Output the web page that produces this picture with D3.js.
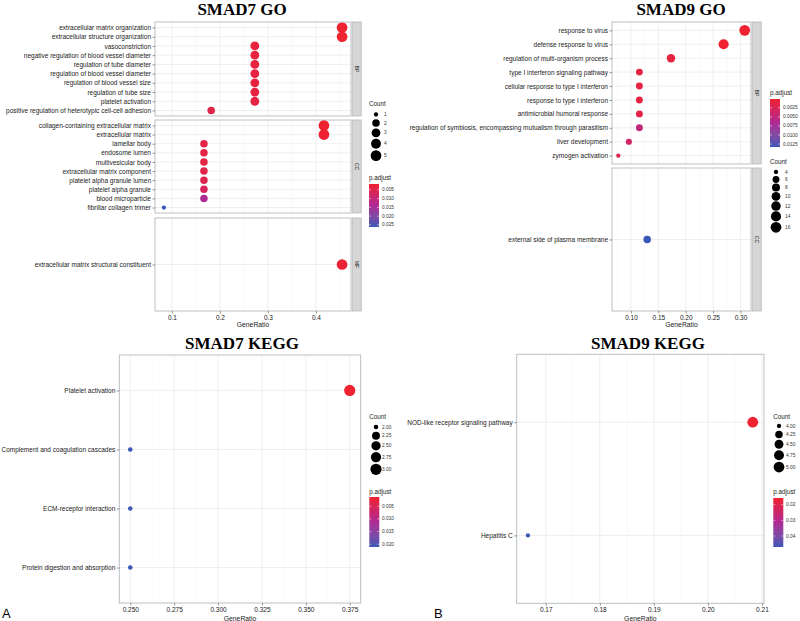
<!DOCTYPE html>
<html><head><meta charset="utf-8">
<script src="https://cdn.jsdelivr.net/npm/d3@7"></script>
<style>body{margin:0;background:#fff} svg{display:block}</style>
</head><body>
<svg id="chart" width="800" height="621"></svg>
<script>
// ---------------- DATA ----------------
// SMAD7 GO
const smad7GoTerms = [
  "extracellular matrix organization","extracellular structure organization","vasoconstriction",
  "negative regulation of blood vessel diameter","regulation of tube diameter","regulation of blood vessel diameter",
  "regulation of blood vessel size","regulation of tube size","platelet activation",
  "positive regulation of heterotypic cell-cell adhesion",
  "collagen-containing extracellular matrix","extracellular matrix","lamellar body","endosome lumen",
  "multivesicular body","extracellular matrix component","platelet alpha granule lumen","platelet alpha granule",
  "blood microparticle","fibrillar collagen trimer",
  "extracellular matrix structural constituent"];
const smad7GoOntology = ["BP","BP","BP","BP","BP","BP","BP","BP","BP","BP",
  "CC","CC","CC","CC","CC","CC","CC","CC","CC","CC","MF"];
const smad7GoGeneRatio = [0.4545,0.4545,0.2727,0.2727,0.2727,0.2727,0.2727,0.2727,0.2727,0.1818,
  0.4167,0.4167,0.1667,0.1667,0.1667,0.1667,0.1667,0.1667,0.1667,0.0833,0.4545];
const smad7GoCount = [5,5,3,3,3,3,3,3,3,2, 5,5,2,2,2,2,2,2,2,1, 5];
const smad7GoPadjust = [0.0017,0.0017,0.0030,0.0032,0.0034,0.0034,0.0035,0.0035,0.0040,0.0045,
  0.0017,0.0017,0.0040,0.0040,0.0040,0.0045,0.0055,0.0068,0.0140,0.0262,0.0022];
const smad7GoXTicks = [0.1,0.2,0.3,0.4];
const smad7GoPTicks = [0.005,0.010,0.015,0.020,0.025];
const smad7GoCountTicks = [1,2,3,4,5];

// SMAD9 GO
const smad9GoTerms = ["response to virus","defense response to virus","regulation of multi-organism process",
  "type I interferon signaling pathway","cellular response to type I interferon","response to type I interferon",
  "antimicrobial humoral response","regulation of symbiosis, encompassing mutualism through parasitism",
  "liver development","zymogen activation","external side of plasma membrane"];
const smad9GoOntology = ["BP","BP","BP","BP","BP","BP","BP","BP","BP","BP","CC"];
const smad9GoGeneRatio = [0.3077,0.2692,0.1731,0.1154,0.1154,0.1154,0.1154,0.1154,0.0962,0.0769,0.1296];
const smad9GoCount = [16,14,9,6,6,6,6,6,5,4,7];
const smad9GoPadjust = [0.0001,0.0001,0.0012,0.0012,0.0012,0.0012,0.0015,0.0050,0.0035,0.0020,0.0133];
const smad9GoXTicks = [0.10,0.15,0.20,0.25,0.30];
const smad9GoPTicks = [0.0025,0.0050,0.0075,0.0100,0.0125];
const smad9GoCountTicks = [4,6,8,10,12,14,16];

// SMAD7 KEGG
const smad7KeggTerms = ["Platelet activation","Complement and coagulation cascades","ECM-receptor interaction","Protein digestion and absorption"];
const smad7KeggGeneRatio = [0.375,0.25,0.25,0.25];
const smad7KeggCount = [3,2,2,2];
const smad7KeggPadjust = [0.0013,0.0211,0.0211,0.0211];
const smad7KeggXTicks = [0.250,0.275,0.300,0.325,0.350,0.375];
const smad7KeggPTicks = [0.005,0.010,0.015,0.020];
const smad7KeggCountTicks = [2.00,2.25,2.50,2.75,3.00];

// SMAD9 KEGG
const smad9KeggTerms = ["NOD-like receptor signaling pathway","Hepatitis C"];
const smad9KeggGeneRatio = [0.2083,0.1667];
const smad9KeggCount = [5,4];
const smad9KeggPadjust = [0.0158,0.0470];
const smad9KeggXTicks = [0.17,0.18,0.19,0.20,0.21];
const smad9KeggPTicks = [0.02,0.03,0.04];
const smad9KeggCountTicks = [4.00,4.25,4.50,4.75,5.00];

// ---------------- DRAWING ----------------
const svg = d3.select("#chart");
svg.append("rect").attr("width",800).attr("height",621).attr("fill","#fff");
const RED = "#EE2231", MID = "#AE2A94", BLUE = "#3A57B6";
const SANS = "'Liberation Sans', Arial, sans-serif";
const SERIF = "'Liberation Serif', 'Times New Roman', serif";
const BORDER = "#b4b8bd";
let gradId = 0;

function expand(ext){ const r = ext[1]-ext[0]; return [ext[0]-0.05*r, ext[1]+0.05*r]; }

function drawDotplot(cfg){
  const g = svg.append("g");
  const x = d3.scaleLinear().domain(expand(d3.extent(cfg.ratio))).range([cfg.left, cfg.right]);
  const pe = d3.extent(cfg.padj);
  const color = d3.scaleLinear().domain([pe[0], (pe[0]+pe[1])/2, pe[1]]).range([RED, MID, BLUE]).interpolate(d3.interpolateLab);
  const cExt = d3.extent(cfg.count);
  const diam = c => cfg.dMin + (cfg.dMax - cfg.dMin) * Math.sqrt((c - cExt[0]) / (cExt[1] - cExt[0]));

  // minor breaks
  const step = cfg.xTicks[1]-cfg.xTicks[0];
  const ext = [cfg.xTicks[0]-step, ...cfg.xTicks, cfg.xTicks[cfg.xTicks.length-1]+step];
  const minors = d3.pairs(ext).map(p => (p[0]+p[1])/2).filter(v => v>x.domain()[0] && v<x.domain()[1]);

  cfg.facets.forEach((f, fi) => {
    const idx = cfg.terms.map((t,i)=>i).filter(i => !f.key || cfg.ont[i] === f.key);
    const y = d3.scalePoint().domain(idx.map(i=>cfg.terms[i])).range([f.top, f.bottom]).padding(0.6);
    const pg = g.append("g");
    pg.append("rect").attr("x",cfg.left).attr("y",f.top).attr("width",cfg.right-cfg.left).attr("height",f.bottom-f.top).attr("fill","#fff");
    pg.selectAll(".mn").data(minors).join("line").attr("x1",d=>x(d)).attr("x2",d=>x(d)).attr("y1",f.top).attr("y2",f.bottom)
      .attr("stroke","#f4f4f4").attr("stroke-width",0.5);
    pg.selectAll(".mj").data(cfg.xTicks).join("line").attr("x1",d=>x(d)).attr("x2",d=>x(d)).attr("y1",f.top).attr("y2",f.bottom)
      .attr("stroke","#e8e8e8").attr("stroke-width",0.7);
    pg.selectAll(".hz").data(y.domain()).join("line").attr("x1",cfg.left).attr("x2",cfg.right).attr("y1",d=>y(d)).attr("y2",d=>y(d))
      .attr("stroke","#e8e8e8").attr("stroke-width",0.7);
    pg.selectAll("circle").data(idx).join("circle")
      .attr("cx", i => x(cfg.ratio[i])).attr("cy", i => y(cfg.terms[i]))
      .attr("r", i => diam(cfg.count[i])/2).attr("fill", i => color(cfg.padj[i]));
    pg.append("rect").attr("x",cfg.left).attr("y",f.top).attr("width",cfg.right-cfg.left).attr("height",f.bottom-f.top)
      .attr("fill","none").attr("stroke",BORDER).attr("stroke-width",0.9);
    // y axis
    const ya = pg.append("g").attr("transform",`translate(${cfg.left},0)`).call(d3.axisLeft(y).tickSize(2.5).tickPadding(1.5));
    ya.select(".domain").remove();
    ya.selectAll("line").attr("stroke","#333").attr("stroke-width",0.5);
    ya.selectAll("text").attr("font-family",SANS).attr("font-size",cfg.axisFont).attr("fill","#1a1a1a");
    // strip
    if (f.key){
      pg.append("rect").attr("x",cfg.right+1.2).attr("y",f.top).attr("width",9).attr("height",f.bottom-f.top)
        .attr("fill","#d6d6d6").attr("stroke",BORDER).attr("stroke-width",0.8);
      pg.append("text").attr("transform",`translate(${cfg.right+5.7},${(f.top+f.bottom)/2}) rotate(90)`)
        .attr("text-anchor","middle").attr("dominant-baseline","central")
        .attr("font-family",SANS).attr("font-size",5.2).attr("fill","#1a1a1a").text(f.key);
    }
    if (fi === cfg.facets.length-1){
      const xa = g.append("g").attr("transform",`translate(0,${f.bottom})`)
        .call(d3.axisBottom(x).tickValues(cfg.xTicks).tickFormat(d3.format(cfg.xFmt)).tickSize(2.5).tickPadding(1.5));
      xa.select(".domain").remove();
      xa.selectAll("line").attr("stroke","#333").attr("stroke-width",0.5);
      xa.selectAll("text").attr("font-family",SANS).attr("font-size",cfg.axisFont).attr("fill","#1a1a1a");
      g.append("text").attr("x",(cfg.left+cfg.right)/2).attr("y",f.bottom+cfg.xlabOff).attr("text-anchor","middle")
        .attr("font-family",SANS).attr("font-size",6.8).attr("fill","#1a1a1a").text("GeneRatio");
    }
  });

  // title
  g.append("text").attr("x",cfg.titleX).attr("y",cfg.titleY).attr("text-anchor","middle")
    .attr("font-family",SERIF).attr("font-weight","bold").attr("font-size",17).attr("fill","#000").text(cfg.title);

  // count legend
  const cl = cfg.countLeg;
  g.append("text").attr("x",cl.x).attr("y",cl.titleY).attr("font-family",SANS).attr("font-size",6.3).attr("fill","#1a1a1a").text("Count");
  let cy = cl.firstY;
  cfg.countTicks.forEach((c,i) => {
    const d = diam(c);
    if (i>0){ const dp = diam(cfg.countTicks[i-1]); cy += (Math.max(cl.minKey, dp+cl.pad) + Math.max(cl.minKey, d+cl.pad))/2; }
    g.append("circle").attr("cx",cl.dotX).attr("cy",cy).attr("r",d/2).attr("fill","#000");
    g.append("text").attr("x",cl.labelX).attr("y",cy).attr("dominant-baseline","central")
      .attr("font-family",SANS).attr("font-size",4.8).attr("fill","#333").text(d3.format(cfg.countFmt)(c));
  });

  // p.adjust legend
  const pl = cfg.pLeg;
  g.append("text").attr("x",pl.x).attr("y",pl.titleY).attr("font-family",SANS).attr("font-size",6.3).attr("fill","#1a1a1a").text("p.adjust");
  const id = "grad"+(gradId++);
  const grad = svg.append("defs").append("linearGradient").attr("id",id).attr("x1",0).attr("x2",0).attr("y1",0).attr("y2",1);
  d3.range(0,1.0001,0.1).forEach(t => grad.append("stop").attr("offset",t).attr("stop-color",color(pe[0]+t*(pe[1]-pe[0]))));
  g.append("rect").attr("x",pl.x).attr("y",pl.top).attr("width",pl.w).attr("height",pl.bottom-pl.top).attr("fill",`url(#${id})`);
  const py = d3.scaleLinear().domain(pe).range([pl.top, pl.bottom]);
  cfg.pTicks.forEach(v => {
    g.append("line").attr("x1",pl.x).attr("x2",pl.x+2).attr("y1",py(v)).attr("y2",py(v)).attr("stroke","#fff").attr("stroke-width",0.5);
    g.append("line").attr("x1",pl.x+pl.w-2).attr("x2",pl.x+pl.w).attr("y1",py(v)).attr("y2",py(v)).attr("stroke","#fff").attr("stroke-width",0.5);
    g.append("text").attr("x",pl.labelX).attr("y",py(v)).attr("dominant-baseline","central")
      .attr("font-family",SANS).attr("font-size",4.8).attr("fill","#333").text(d3.format(cfg.pFmt)(v));
  });
}

// Panel A top: SMAD7 GO
drawDotplot({
  title:"SMAD7 GO", titleX:242, titleY:14.5,
  terms:smad7GoTerms, ont:smad7GoOntology, ratio:smad7GoGeneRatio, count:smad7GoCount, padj:smad7GoPadjust,
  left:155, right:351, facets:[{key:"BP",top:22,bottom:116},{key:"CC",top:120,bottom:213},{key:"MF",top:218,bottom:311}],
  xTicks:smad7GoXTicks, xFmt:".1f", axisFont:6.5, xlabOff:16,
  dMin:4.3, dMax:10.7,
  countTicks:smad7GoCountTicks, countFmt:"d", pTicks:smad7GoPTicks, pFmt:".3f",
  countLeg:{x:369, titleY:106, firstY:114.5, dotX:376, labelX:384, minKey:8, pad:1.6},
  pLeg:{x:369, titleY:180, top:184, bottom:227, w:10, labelX:382}
});

// Panel B top: SMAD9 GO
drawDotplot({
  title:"SMAD9 GO", titleX:681, titleY:14.5,
  terms:smad9GoTerms, ont:smad9GoOntology, ratio:smad9GoGeneRatio, count:smad9GoCount, padj:smad9GoPadjust,
  left:612, right:751, facets:[{key:"BP",top:22,bottom:164},{key:"CC",top:168,bottom:311}],
  xTicks:smad9GoXTicks, xFmt:".2f", axisFont:6.5, xlabOff:16,
  dMin:4.3, dMax:10.7,
  countTicks:smad9GoCountTicks, countFmt:"d", pTicks:smad9GoPTicks, pFmt:".4f",
  countLeg:{x:770, titleY:164, firstY:172, dotX:776, labelX:785, minKey:7.5, pad:0.5},
  pLeg:{x:770, titleY:95, top:99, bottom:147, w:10, labelX:783}
});

// Panel A bottom: SMAD7 KEGG
drawDotplot({
  title:"SMAD7 KEGG", titleX:242, titleY:348.5,
  terms:smad7KeggTerms, ont:null, ratio:smad7KeggGeneRatio, count:smad7KeggCount, padj:smad7KeggPadjust,
  left:119.3, right:360.7, facets:[{key:null,top:355,bottom:603}],
  xTicks:smad7KeggXTicks, xFmt:".3f", axisFont:6.5, xlabOff:17.5,
  dMin:4.6, dMax:11.2,
  countTicks:smad7KeggCountTicks, countFmt:".2f", pTicks:smad7KeggPTicks, pFmt:".3f",
  countLeg:{x:369.3, titleY:419, firstY:427, dotX:376, labelX:382, minKey:8, pad:1.5},
  pLeg:{x:369.3, titleY:494, top:497, bottom:547, w:10, labelX:382}
});

// Panel B bottom: SMAD9 KEGG
drawDotplot({
  title:"SMAD9 KEGG", titleX:648, titleY:348.5,
  terms:smad9KeggTerms, ont:null, ratio:smad9KeggGeneRatio, count:smad9KeggCount, padj:smad9KeggPadjust,
  left:516.7, right:764, facets:[{key:null,top:354.3,bottom:603.3}],
  xTicks:smad9KeggXTicks, xFmt:".2f", axisFont:6.5, xlabOff:17.5,
  dMin:4.3, dMax:10.8,
  countTicks:smad9KeggCountTicks, countFmt:".2f", pTicks:smad9KeggPTicks, pFmt:".2f",
  countLeg:{x:773.3, titleY:419, firstY:426, dotX:779, labelX:786, minKey:8, pad:1.5},
  pLeg:{x:773.3, titleY:494, top:498, bottom:547, w:10, labelX:786}
});

// panel letters
svg.append("text").attr("x",2).attr("y",618).attr("font-family",SANS).attr("font-size",13).attr("fill","#000").text("A");
svg.append("text").attr("x",434).attr("y",618).attr("font-family",SANS).attr("font-size",13).attr("fill","#000").text("B");
</script>
</body></html>
